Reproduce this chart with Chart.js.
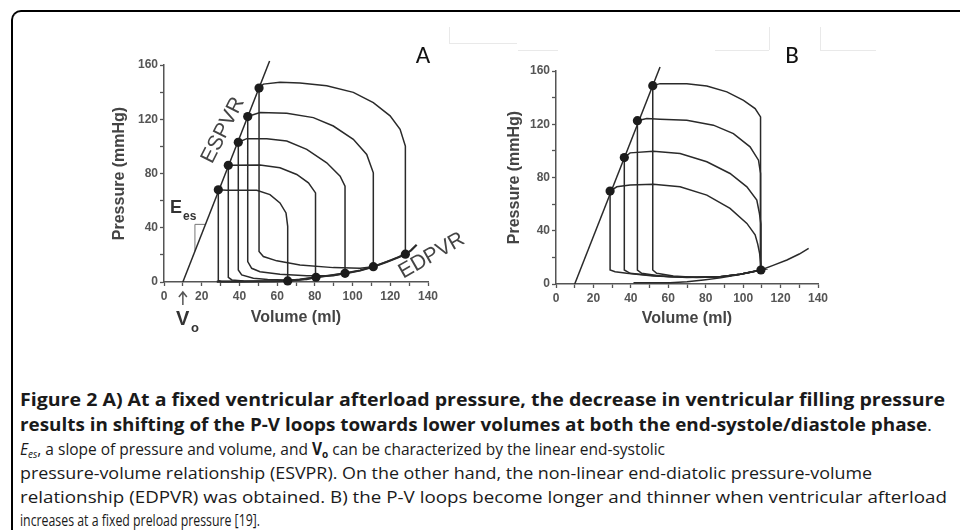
<!DOCTYPE html>
<html>
<head>
<meta charset="utf-8">
<script src="https://cdn.jsdelivr.net/npm/chart.js@4.4.1/dist/chart.umd.min.js"></script>
<style>
  html, body { margin: 0; padding: 0; background: #fff; }
  body { width: 960px; height: 530px; position: relative; overflow: hidden; font-family: "Open Sans", "Noto Sans", sans-serif; }
  .frame { position: absolute; left: 11px; top: 10px; width: 1000px; height: 600px;
           border-left: 2px solid #000; border-top: 2px solid #000; border-top-left-radius: 10px; }
  .faint { position: absolute; background: #e9e9e9; }
  canvas { position: absolute; top: 0; }
  .cap { position: absolute; left: 20px; white-space: nowrap; font-size: 17px; line-height: 24px;
         color: #1a1a1a; transform-origin: 0 50%; }
  .cap b { font-weight: 700; }
  .cap sub { font-size: 11px; vertical-align: -3px; line-height: 0; }
</style>
</head>
<body>
<div class="frame"></div>
<div class="faint" style="left:449px;top:27px;width:1px;height:16px"></div>
<div class="faint" style="left:449px;top:43px;width:68px;height:1px"></div>
<div class="faint" style="left:518px;top:50px;width:40px;height:1px"></div>
<div class="faint" style="left:715px;top:50px;width:54px;height:1px"></div>
<div class="faint" style="left:769px;top:27px;width:1px;height:23px"></div>
<div class="faint" style="left:820px;top:27px;width:1px;height:23px"></div>
<div class="faint" style="left:820px;top:50px;width:56px;height:1px"></div>

<canvas id="chartA" width="480" height="340" style="left:0"></canvas>
<canvas id="chartB" width="480" height="340" style="left:480px"></canvas>

<div class="cap" data-w="925" style="top:388px"><b>Figure 2 A) At a fixed ventricular afterload pressure, the decrease in ventricular filling pressure</b></div>
<div class="cap" data-w="912" style="top:413px"><b>results in shifting of the P-V loops towards lower volumes at both the end-systole/diastole phase</b>.</div>
<div class="cap" data-w="645" style="top:437px"><i>E<sub>es</sub></i>, a slope of pressure and volume, and <b>V<sub>o</sub></b> can be characterized by the linear end-systolic</div>
<div class="cap" data-w="852" style="top:461px">pressure-volume relationship (ESVPR). On the other hand, the non-linear end-diatolic pressure-volume</div>
<div class="cap" data-w="927" style="top:485px">relationship (EDPVR) was obtained. B) the P-V loops become longer and thinner when ventricular afterload</div>
<div class="cap" data-w="240" style="top:508px">increases at a fixed preload pressure [19].</div>

<script>
// tick labels
const volumeTicks = [0, 20, 40, 60, 80, 100, 120, 140];
const pressureTicks = [0, 40, 80, 120, 160];

// Panel A - [volume ml, pressure mmHg], each loop closed
const loopA1 = [[28.8,68],[28.8,1.2],[30.5,0.4],[40,0.3],[50,0.4],[60,0.5],[65.6,0.8],[65.6,41],[64.7,50.9],[61.5,58.3],[56.2,64.4],[49.2,67.7],[33.3,67.7],[28.8,68]];
const loopA2 = [[34.1,86],[34.1,3.5],[36,1.5],[42.3,0.8],[55,0.6],[63,0.7],[70.4,1.4],[76,2.5],[80.6,3.5],[80.6,55.8],[80.1,65.7],[76.6,73.1],[70.4,79.3],[61.5,84.2],[50.9,86.2],[34.1,86]];
const loopA3 = [[39.4,103],[39.4,8.9],[41.2,5.2],[47.4,2.7],[55,1.8],[65,1.5],[75.7,1.8],[80.6,3.5],[88,4.8],[96,6.4],[96,70.6],[93.4,78],[86.3,87.9],[75.7,97.8],[65.1,103.9],[54.5,105.7],[43.9,105.7],[39.4,103]];
const loopA4 = [[44.4,122],[44.4,15],[46.5,10.1],[50.9,7.6],[61.5,5.7],[75.7,4.7],[89.8,4.6],[96,6.4],[104,8.5],[111,11.3],[111,80.5],[107.5,94.1],[100.4,105.2],[89.8,115],[79.2,121.2],[65.1,124.4],[50.9,125],[44.4,122]];
const loopA5 = [[50.4,143],[50.4,22.5],[52.7,18.8],[59.8,15.6],[72.1,12.6],[89.8,10.6],[104,10.1],[111,11.3],[119.9,15.8],[128,20.5],[128,100.2],[125.2,112.6],[119.9,122.5],[111,132.3],[100.4,139.8],[86.3,144.7],[72.1,146.7],[61.5,147.2],[52.7,145.9],[50.4,143]];
const edpvrA = [[28,0.3],[40,0.3],[50,0.4],[60,0.5],[65.6,0.8],[72,1.8],[80.6,3.5],[88,4.8],[96,6.4],[104,8.5],[111,11.3],[118,14.8],[124,18],[128,20.5],[131,23.3],[134,27.4]];
const espvrA = [[10,0],[56,163]];
const slopeA = [[16.4,22.7],[16.4,42.5],[22,42.5]];
const esDotsA = [[28.8,68],[34.1,86],[39.4,103],[44.4,122],[50.4,143]];
const edDotsA = [[65.6,0.8],[80.6,3.5],[96,6.4],[111,11.3],[128,20.5]];

// Panel B
const loopB1 = [[28.9,69.8],[28.9,10.5],[31.6,9.2],[37.8,8],[52,6],[69.9,5],[87.7,5.5],[98.4,7.3],[109.5,10.5],[109.4,15],[108.8,23],[107.8,30],[106.4,37],[102,45.5],[93,56.8],[80.6,66.8],[66.3,73],[52,75],[39.6,74.3],[32.5,73],[28.9,69.8]];
const loopB2 = [[36.5,95],[36.5,10.5],[39.6,8],[48.5,6.8],[61,5.5],[75,5],[87.7,5.5],[98.4,7.3],[109.5,10.5],[109.5,45],[108.7,53],[107.3,63],[102,73],[93,83],[80.6,91.8],[66.3,98],[52,99.8],[39.6,98.5],[36.5,95]];
const loopB3 = [[43.5,122.7],[43.5,10.5],[45.8,8],[55.6,6],[69.9,4.8],[87.7,5.5],[98.4,7.3],[109.5,10.5],[109.5,78],[109.1,83],[108.2,93],[103.7,103],[94.8,113],[84.1,119.3],[69.9,123],[55.6,123.8],[48.5,124.3],[43.5,122.7]];
const loopB4 = [[51.7,149],[51.7,10.5],[53.8,8],[62.7,6],[75.2,4.8],[87.7,5.5],[98.4,7.3],[109.5,10.5],[109.5,118],[109.1,125.5],[106.4,131.8],[100.2,138],[91.3,144.3],[80.6,148.8],[69.9,150.5],[55.6,150.5],[51.7,149]];
const edpvrB = [[41.4,1],[61,1],[70,1.6],[78.8,3],[88,4.6],[96.6,6.8],[103,8.5],[109.5,10.5],[116,14],[123.4,18],[130,22.5],[135,26.8]];
const espvrB = [[10,0],[55.6,163]];
const esDotsB = [[28.9,69.8],[36.5,95],[43.5,122.7],[51.7,149]];
const edDotsB = [[109.5,10.5]];

const pts = arr => arr.map(([x, y]) => ({x, y}));
const INK = '#2a2a2a';

function lineSet(arr, width, color) {
  return { data: pts(arr), showLine: true, pointRadius: 0, borderColor: color || INK,
           borderWidth: width || 1.5, tension: 0, clip: false, fill: false };
}
function dotSet(arr) {
  return { data: pts(arr), showLine: false, pointRadius: 4.6, pointBackgroundColor: '#1c1c1c',
           pointBorderWidth: 0, clip: false };
}

// text labels, arrow etc. placed through the scales
const annotate = {
  id: 'annotate',
  afterDatasetsDraw(chart, args, opts) {
    const {ctx, scales: {x, y}} = chart;
    (opts.items || []).forEach(it => {
      const px = x.getPixelForValue(it.x), py = y.getPixelForValue(it.y);
      ctx.save();
      ctx.translate(px, py);
      if (it.arrow) {
        ctx.strokeStyle = '#555'; ctx.lineWidth = 1.5;
        ctx.beginPath();
        ctx.moveTo(0, it.arrow); ctx.lineTo(0, 0);
        ctx.moveTo(-4, 5); ctx.lineTo(0, 0); ctx.lineTo(4, 5);
        ctx.stroke();
      } else {
        ctx.rotate((it.rot || 0) * Math.PI / 180);
        ctx.font = it.font;
        ctx.fillStyle = it.color || '#333';
        ctx.textAlign = it.align || 'center';
        ctx.textBaseline = it.base || 'middle';
        ctx.fillText(it.text, 0, 0);
      }
      ctx.restore();
    });
  }
};

const tickFont = { family: '"Liberation Sans", Arial, sans-serif', size: 12, weight: 'bold' };
const titleFont = { family: '"Liberation Sans", Arial, sans-serif', size: 16, weight: 'bold' };

function scalesFor(yWidth, xHeight, xTitlePad) {
  return {
    x: {
      type: 'linear', min: 0, max: 140,
      ticks: { stepSize: 10, autoSkip: false, maxRotation: 0, padding: 3, color: '#555', font: tickFont,
               callback: v => volumeTicks.includes(v) ? v : '' },
      grid: { drawOnChartArea: false, tickLength: 4, tickColor: '#555', tickWidth: 1.3 },
      border: { color: '#555', width: 1.5 },
      title: { display: true, text: 'Volume (ml)', color: '#444', font: titleFont, padding: { top: 0, bottom: xTitlePad } },
      afterFit: s => { s.height = xHeight; }
    },
    y: {
      type: 'linear', min: 0, max: 160,
      ticks: { stepSize: 20, autoSkip: false, padding: 2, color: '#555', font: tickFont,
               callback: v => pressureTicks.includes(v) ? v : '' },
      grid: { drawOnChartArea: false, tickLength: 4, tickColor: '#555', tickWidth: 1.3 },
      border: { color: '#555', width: 1.5 },
      title: { display: true, text: 'Pressure (mmHg)', color: '#444', font: titleFont, padding: { top: 6, bottom: 0 } },
      afterFit: s => { s.width = yWidth; }
    }
  };
}

const labelFont = '21px "Liberation Sans", Arial, sans-serif';
const panelFont = '25px "Carlito", "Liberation Sans", Arial, sans-serif';

new Chart(document.getElementById('chartA'), {
  type: 'scatter',
  data: { datasets: [
    dotSet(esDotsA), dotSet(edDotsA),
    lineSet(espvrA, 1.5), lineSet(edpvrA, 2.2), lineSet(slopeA, 1, '#777'),
    lineSet(loopA1), lineSet(loopA2), lineSet(loopA3), lineSet(loopA4), lineSet(loopA5)
  ] },
  options: {
    responsive: false, animation: false, devicePixelRatio: 1,
    layout: { padding: { left: 104, right: 52, top: 65, bottom: 10 } },
    scales: scalesFor(60, 48, 3),
    plugins: {
      legend: { display: false }, tooltip: { enabled: false },
      annotate: { items: [
        { x: 31.3, y: 111.9, rot: -63, text: 'ESPVR', font: labelFont, color: '#444' },
        { x: 142, y: 19.4, rot: -30, text: 'EDPVR', font: labelFont, color: '#444' },
        { x: 3.2, y: 51, text: 'E', font: 'bold 18px "Liberation Sans", Arial', align: 'left', base: 'alphabetic' },
        { x: 10.1, y: 46, text: 'es', font: 'bold 12px "Liberation Sans", Arial', align: 'left', base: 'alphabetic' },
        { x: 10, y: -7.4, arrow: 13 },
        { x: 6.4, y: -31.9, text: 'V', font: 'bold 20px "Liberation Sans", Arial', align: 'left', base: 'alphabetic' },
        { x: 14.3, y: -37, text: 'o', font: 'bold 13px "Liberation Sans", Arial', align: 'left', base: 'alphabetic' },
        { x: 137.4, y: 165.9, text: 'A', font: panelFont, color: '#111' }
      ] }
    }
  },
  plugins: [annotate]
});

new Chart(document.getElementById('chartB'), {
  type: 'scatter',
  data: { datasets: [
    dotSet(esDotsB), dotSet(edDotsB),
    lineSet(espvrB, 1.5), lineSet(edpvrB, 1.5),
    lineSet(loopB1), lineSet(loopB2), lineSet(loopB3), lineSet(loopB4)
  ] },
  options: {
    responsive: false, animation: false, devicePixelRatio: 1,
    layout: { padding: { left: 19, right: 142, top: 71, bottom: 10 } },
    scales: scalesFor(57, 46, 2),
    plugins: {
      legend: { display: false }, tooltip: { enabled: false },
      annotate: { items: [
        { x: 126.2, y: 171, text: 'B', font: panelFont, color: '#111' }
      ] }
    }
  },
  plugins: [annotate]
});

// squeeze caption lines to the condensed width of the original
document.querySelectorAll('.cap').forEach(el => {
  const w = el.getBoundingClientRect().width;
  el.style.transform = 'scaleX(' + (el.dataset.w / w) + ')';
});
</script>
</body>
</html>
